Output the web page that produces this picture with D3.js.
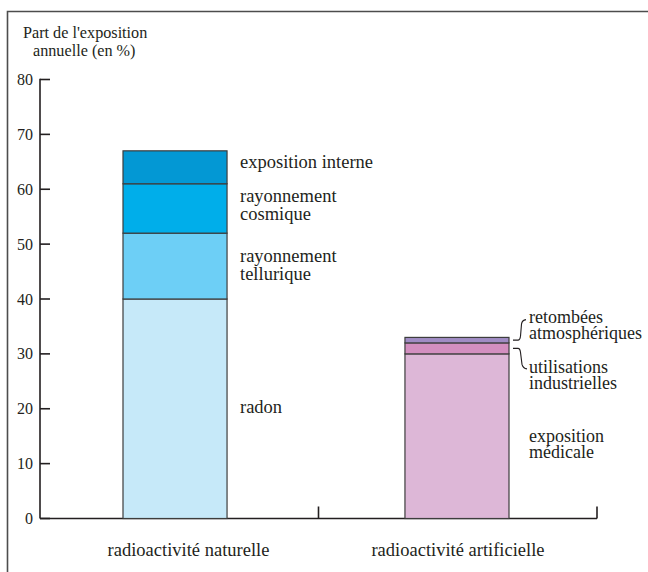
<!DOCTYPE html>
<html><head><meta charset="utf-8">
<script src="https://cdn.jsdelivr.net/npm/d3@7"></script>
</head>
<body style="margin:0">
<svg id="c" width="648" height="572"></svg>
<script>
// ---- data ----
const categories = ["radioactivité naturelle", "radioactivité artificielle"];
const naturalParts = ["radon", "rayonnement tellurique", "rayonnement cosmique", "exposition interne"];
const naturalValues = [40, 12, 9, 6];
const artificialParts = ["exposition médicale", "utilisations industrielles", "retombées atmosphériques"];
const artificialValues = [30, 2, 1];
const yTicks = [0, 10, 20, 30, 40, 50, 60, 70, 80];
const yTitle = ["Part de l'exposition", "annuelle (en %)"];
const naturalColors = ["#c6e9f9", "#6dcff6", "#00aeea", "#0398d4"];
const artificialColors = ["#ddb7d7", "#d38fc0", "#a08cc4"];

const ink = "#231f20";
const svg = d3.select("#c");
const txt = (sel) => sel.style("font-family", `"Liberation Serif", monospace`).attr("fill", ink);

// frame
svg.append("path").attr("d", "M7.5,572 L7.5,11.5 L648,11.5")
  .attr("fill", "none").attr("stroke", "#4d4d4d").attr("stroke-width", 1.6);

const x = d3.scaleBand().domain(categories).range([40, 597]).paddingInner(0).paddingOuter(0);
const xb = d3.scaleBand().domain(categories).range([123, 509]).paddingInner(0.631);
const y = d3.scaleLinear().domain([0, 80]).range([518.5, 79.5]);

// y axis ticks (drawn via scale)
svg.selectAll(".ytick").data(yTicks).enter().append("line")
  .attr("x1", 40).attr("x2", 50).attr("y1", d => y(d)).attr("y2", d => y(d))
  .attr("stroke", ink).attr("stroke-width", 1.6);
svg.append("line").attr("x1", 40).attr("x2", 40).attr("y1", y(80) - 0.8).attr("y2", y(0))
  .attr("stroke", ink).attr("stroke-width", 1.6);

// x axis
svg.append("line").attr("x1", 40).attr("x2", 597).attr("y1", y(0)).attr("y2", y(0))
  .attr("stroke", ink).attr("stroke-width", 1.6);
svg.selectAll(".xt").data(categories).enter().append("line")
  .attr("x1", d => x(d) + x.bandwidth()).attr("x2", d => x(d) + x.bandwidth())
  .attr("y1", y(0)).attr("y2", y(0) - 12)
  .attr("stroke", ink).attr("stroke-width", 1.6);

// stacked bars
function stackBar(cat, values, colors) {
  let cum = 0;
  const segs = values.map((v, i) => { const s = {y0: cum, y1: cum + v, color: colors[i]}; cum += v; return s; });
  svg.selectAll(null).data(segs).enter().append("rect")
    .attr("x", xb(cat)).attr("width", xb.bandwidth())
    .attr("y", d => y(d.y1)).attr("height", d => y(d.y0) - y(d.y1))
    .attr("fill", d => d.color).attr("stroke", "#3d3d3d").attr("stroke-width", 1.2);
  return segs;
}
const segN = stackBar(categories[0], naturalValues, naturalColors);
const segA = stackBar(categories[1], artificialValues, artificialColors);

// leader lines
const bx = xb(categories[1]) + xb.bandwidth();
const ym1 = y((segA[2].y0 + segA[2].y1) / 2);
const ym2 = y((segA[1].y0 + segA[1].y1) / 2);
svg.append("path")
  .attr("d", `M${bx + 4},${ym1} L${bx + 9},${ym1} Q${bx + 11},${ym1} ${bx + 11.5},${ym1 - 4} L${bx + 12.5},${ym1 - 16} Q${bx + 13},${ym1 - 20} ${bx + 17},${ym1 - 20.5}`)
  .attr("fill", "none").attr("stroke", ink).attr("stroke-width", 1.1);
svg.append("path")
  .attr("d", `M${bx + 4},${ym2} L${bx + 9},${ym2} Q${bx + 11},${ym2} ${bx + 11.5},${ym2 + 4} L${bx + 13},${ym2 + 16} Q${bx + 14},${ym2 + 20} ${bx + 18},${ym2 + 20.5}`)
  .attr("fill", "none").attr("stroke", ink).attr("stroke-width", 1.1);

// ---- texts ----
svg.selectAll(".ylab").data(yTicks).enter().append("text")
  .call(txt).attr("x", 33).attr("y", d => y(d) + 5.5).attr("text-anchor", "end")
  .attr("font-size", 16).text(d => d);

svg.selectAll(".xlab").data(categories).enter().append("text")
  .call(txt).attr("x", (d, i) => i === 0 ? 188.5 : 458).attr("y", 556)
  .attr("text-anchor", "middle").attr("font-size", 18.5).text(d => d);

svg.selectAll(".yt").data(yTitle).enter().append("text")
  .call(txt).attr("x", (d, i) => i === 0 ? 23 : 33).attr("y", (d, i) => 37.5 + i * 18)
  .attr("font-size", 16.2).text(d => d);

const natLabelLines = [["radon"], ["rayonnement", "tellurique"], ["rayonnement", "cosmique"], ["exposition interne"]];
const natLabelY = [413, 262, 202, 168];
natLabelLines.forEach((lines, i) => {
  lines.forEach((t, j) => {
    svg.append("text").call(txt).attr("x", 240).attr("y", natLabelY[i] + j * 17.5)
      .attr("font-size", 18.5).text(t);
  });
});

const artLabelLines = [["exposition", "médicale"], ["utilisations", "industrielles"], ["retombées", "atmosphériques"]];
const artLabelY = [442, 373, 323];
artLabelLines.forEach((lines, i) => {
  lines.forEach((t, j) => {
    svg.append("text").call(txt).attr("x", 529).attr("y", artLabelY[i] + j * 15.8)
      .attr("font-size", 18).text(t);
  });
});
</script>
</body></html>
